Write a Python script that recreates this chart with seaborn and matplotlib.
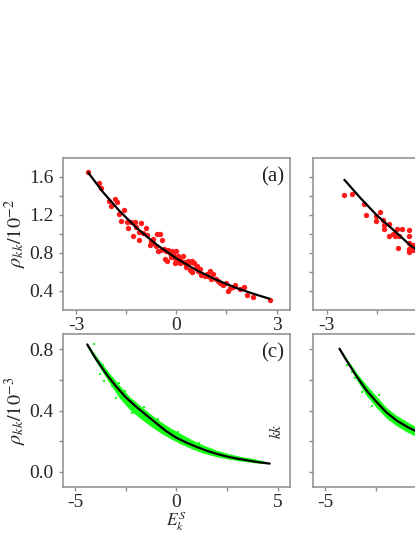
import numpy as np
import pandas as pd
import matplotlib
matplotlib.use("Agg")
import matplotlib.pyplot as plt
import seaborn as sns
from matplotlib.ticker import FixedLocator, FixedFormatter

# ---- panel (a): red points + fit ----
a_x = [-2.64, -2.30, -2.24, -2.01, -1.83, -1.77, -1.95, -1.73, -1.58, -1.65,
       -1.49, -1.37, -1.44, -1.30, -1.24, -1.20, -1.07, -1.11, -1.11, -0.99,
       -0.91, -0.87, -0.79, -0.77, -0.69, -0.57, -0.49, -0.43, -0.56, -0.47,
       -0.35, -0.28, -0.32, -0.20, -0.10, 0.00, -0.05, 0.05, -0.38, -0.24,
       -0.14, -0.09, -0.04, 0.03, 0.10, 0.20, 0.22, 0.30, 0.35, 0.42,
       0.48, 0.52, 0.40, 0.48, 0.58, 0.65, 0.70, 0.75, 0.85, 0.92,
       1.00, 1.10, 1.05, 1.18, 1.25, 1.40, 1.48, 1.55, 1.60, 1.75,
       1.90, 2.02, 2.12, 2.30, 2.79, -0.62, -0.15, 0.12, 0.28, -0.70,
       0.62, 0.95, 1.32, 1.68]
a_y = [1.645, 1.530, 1.480, 1.348, 1.366, 1.330, 1.289, 1.210, 1.250, 1.130,
       1.120, 1.124, 1.060, 0.974, 1.124, 1.068, 1.114, 1.019, 0.939, 1.009,
       1.060, 0.991, 0.886, 0.928, 0.904, 0.998, 1.000, 0.939, 0.816, 0.834,
       0.739, 0.718, 0.823, 0.799, 0.781, 0.816, 0.694, 0.764, 0.844, 0.830,
       0.816, 0.781, 0.746, 0.711, 0.694, 0.764, 0.704, 0.676, 0.718, 0.704,
       0.718, 0.694, 0.624, 0.599, 0.641, 0.606, 0.634, 0.571, 0.554, 0.578,
       0.606, 0.578, 0.529, 0.529, 0.508, 0.459, 0.484, 0.403, 0.431, 0.459,
       0.424, 0.438, 0.361, 0.333, 0.309, 0.870, 0.760, 0.730, 0.650, 0.950,
       0.660, 0.560, 0.480, 0.440]
a_fit_x = [-2.64, -2.2, -1.7, -1.2, -0.6, 0.0, 0.6, 1.2, 1.8, 2.3, 2.79]
a_fit_y = [1.645, 1.44, 1.24, 1.066, 0.889, 0.742, 0.619, 0.517, 0.431, 0.371, 0.318]

# ---- panel (b): red points + fit (right part cut off) ----
b_x = [-2.47, -2.24, -1.88, -1.81, -1.53, -1.51, -1.40, -1.31, -1.28, -1.27,
       -1.13, -1.13, -1.01, -0.91, -0.87, -0.85, -0.75, -0.53, -0.53, -0.53,
       -0.55, -0.48, -0.43, -0.41, -0.55, -0.95, -0.46, -0.38]
b_y = [1.411, 1.418, 1.313, 1.194, 1.190, 1.138, 1.229, 1.145, 1.096, 1.054,
       1.103, 0.981, 0.998, 1.054, 0.851, 0.981, 1.054, 1.044, 0.974, 0.904,
       0.809, 0.869, 0.886, 0.834, 0.840, 0.974, 0.880, 0.860]
b_fit_x = [-2.47, -2.0, -1.5, -1.0, -0.5, 0.0, 0.5]
b_fit_y = [1.568, 1.380, 1.195, 1.040, 0.880, 0.760, 0.650]

# ---- panel (c): green cloud (band edges) + fit ----
c_band_x = [-4.40, -3.80, -3.30, -2.80, -2.30, -1.80, -1.30, -0.80, -0.30,
            0.20, 0.80, 1.30, 2.00, 2.60, 3.20, 3.80, 4.40]
c_band_lo = [0.815, 0.685, 0.580, 0.480, 0.405, 0.350, 0.300, 0.255, 0.216,
             0.182, 0.147, 0.122, 0.097, 0.082, 0.069, 0.059, 0.052]
c_band_hi = [0.840, 0.730, 0.645, 0.565, 0.490, 0.435, 0.380, 0.330, 0.287,
             0.250, 0.207, 0.176, 0.140, 0.117, 0.099, 0.086, 0.068]
c_fit_x = [-4.39, -4.0, -3.5, -3.0, -2.5, -2.0, -1.5, -1.0, -0.5, 0.0,
           0.5, 1.0, 1.5, 2.0, 2.5, 3.0, 3.5, 4.0, 4.6]
c_fit_y = [0.832, 0.745, 0.647, 0.562, 0.487, 0.427, 0.372, 0.318, 0.265, 0.222,
           0.190, 0.162, 0.137, 0.116, 0.099, 0.085, 0.074, 0.063, 0.053]
c_out_x = [-4.05, -3.75, -3.55, -3.45, -3.15, -2.95, -2.85, -3.60, -2.55, -2.20,
           -1.60, -0.90, 0.10, 1.10]
c_out_y = [0.835, 0.640, 0.590, 0.650, 0.560, 0.480, 0.580, 0.700, 0.525, 0.385,
           0.420, 0.345, 0.262, 0.190]

# ---- panel (d): green cloud + fit (right part cut off) ----
d_band_x = [-4.30, -3.80, -3.40, -3.00, -2.50, -2.00, -1.50, -1.00, -0.50, 0.00]
d_band_lo = [0.795, 0.685, 0.585, 0.500, 0.420, 0.350, 0.300, 0.260, 0.228, 0.195]
d_band_hi = [0.810, 0.710, 0.635, 0.570, 0.495, 0.420, 0.368, 0.328, 0.292, 0.255]
d_fit_x = [-4.31, -4.0, -3.5, -3.0, -2.5, -2.0, -1.5, -1.0, -0.5, 0.0]
d_fit_y = [0.804, 0.735, 0.630, 0.535, 0.458, 0.388, 0.335, 0.295, 0.262, 0.225]
d_out_x = [-3.95, -3.70, -3.55, -3.20, -2.70, -2.35, -1.80]
d_out_y = [0.700, 0.650, 0.610, 0.520, 0.430, 0.500, 0.340]

sns.set_theme(style="ticks")
plt.rcParams["font.family"] = "serif"
plt.rcParams["font.serif"] = ["Liberation Serif", "DejaVu Serif"]
plt.rcParams["mathtext.fontset"] = "stix"
plt.rcParams["axes.unicode_minus"] = False

W, H = 415, 537
fig = plt.figure(figsize=(W / 100, H / 100), dpi=100)

def box(left, top, right, bottom):
    return [left / W, 1 - bottom / H, (right - left) / W, (bottom - top) / H]

ax_a = fig.add_axes(box(62.7, 157.7, 290, 310))
ax_b = fig.add_axes(box(313.3, 157.7, 540.6, 310))
ax_c = fig.add_axes(box(62.7, 334, 290, 487))
ax_d = fig.add_axes(box(313.3, 334, 540.6, 487))

red = "#ff1a1a"
green = "#1aff1a"

for ax, xs, ys, fx, fy in [(ax_a, a_x, a_y, a_fit_x, a_fit_y),
                           (ax_b, b_x, b_y, b_fit_x, b_fit_y)]:
    pts = pd.DataFrame({"x": xs, "y": ys})
    sns.scatterplot(data=pts, x="x", y="y", ax=ax, color=red, s=15,
                    linewidth=0, zorder=2)
    fit = pd.DataFrame({"x": fx, "y": fy})
    sns.lineplot(data=fit, x="x", y="y", ax=ax, color="black", lw=1.6,
                 sort=False, estimator=None, zorder=3)
    ax.set_xlim(-3.4, 3.4)
    ax.set_ylim(0.2, 1.8)
    ax.xaxis.set_major_locator(FixedLocator([-3, 0, 3]))
    ax.xaxis.set_minor_locator(FixedLocator([-1.5, 1.5]))
    ax.yaxis.set_major_locator(FixedLocator([0.4, 0.8, 1.2, 1.6]))
    ax.yaxis.set_minor_locator(FixedLocator([0.6, 1.0, 1.4]))
    ax.yaxis.set_major_formatter(FixedFormatter(["0.4", "0.8", "1.2", "1.6"]))

for ax, bx, lo, hi, ox, oy, fx, fy in [
        (ax_c, c_band_x, c_band_lo, c_band_hi, c_out_x, c_out_y, c_fit_x, c_fit_y),
        (ax_d, d_band_x, d_band_lo, d_band_hi, d_out_x, d_out_y, d_fit_x, d_fit_y)]:
    ax.fill_between(bx, lo, hi, color=green, lw=0, zorder=1)
    out = pd.DataFrame({"x": ox, "y": oy})
    sns.scatterplot(data=out, x="x", y="y", ax=ax, color=green, s=4,
                    marker="s", linewidth=0, zorder=1)
    fit = pd.DataFrame({"x": fx, "y": fy})
    sns.lineplot(data=fit, x="x", y="y", ax=ax, color="black", lw=1.6,
                 sort=False, estimator=None, zorder=3)
    ax.set_xlim(-5.6, 5.6)
    ax.set_ylim(-0.1, 0.9)
    ax.xaxis.set_major_locator(FixedLocator([-5, 0, 5]))
    ax.xaxis.set_minor_locator(FixedLocator([-2.5, 2.5]))
    ax.yaxis.set_major_locator(FixedLocator([0.0, 0.4, 0.8]))
    ax.yaxis.set_minor_locator(FixedLocator([0.2, 0.6]))
    ax.yaxis.set_major_formatter(FixedFormatter(["0.0", "0.4", "0.8"]))

# left column shows all x labels; right column is cut by the figure edge
ax_a.xaxis.set_major_formatter(FixedFormatter(["-3", "0", "3"]))
ax_b.xaxis.set_major_formatter(FixedFormatter(["-3", "", ""]))
ax_c.xaxis.set_major_formatter(FixedFormatter(["-5", "0", "5"]))
ax_d.xaxis.set_major_formatter(FixedFormatter(["-5", "", ""]))

for ax in [ax_a, ax_b, ax_c, ax_d]:
    ax.set_xlabel("")
    ax.set_ylabel("")
    for sp in ax.spines.values():
        sp.set_visible(True)
        sp.set_color("#8c8c8c")
        sp.set_linewidth(1.1)
    ax.tick_params(which="both", direction="out", length=3, width=1.0,
                   color="#8c8c8c", labelsize=14, pad=3.5)
    ax.tick_params(axis="x", pad=2)

ax_b.tick_params(axis="y", labelleft=False)
ax_d.tick_params(axis="y", labelleft=False)

ax_a.set_ylabel(r"$\rho_{kk}/10^{-2}$", fontsize=14.5, labelpad=0)
ax_c.set_ylabel(r"$\rho_{kk}/10^{-3}$", fontsize=14.5, labelpad=0)
ax_c.set_xlabel(r"$E_k^S$", fontsize=12.5, labelpad=-1)

ax_a.text(0.975, 0.94, "(a)", transform=ax_a.transAxes, ha="right", va="top",
          fontsize=15)
ax_c.text(0.975, 0.94, "(c)", transform=ax_c.transAxes, ha="right", va="top",
          fontsize=15)

# stray label fragment of the hidden panel (d)
fig.text(276 / W, 1 - 431 / H, r"$kk$", rotation=90, ha="center", va="center",
         fontsize=11)

fig.savefig("out.png", dpi=100)
